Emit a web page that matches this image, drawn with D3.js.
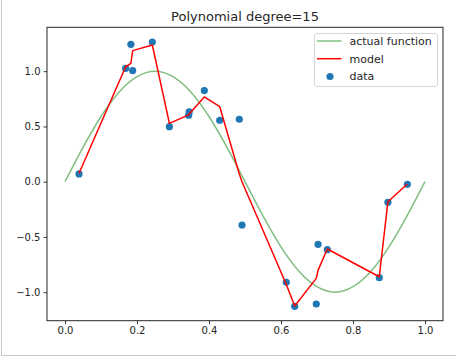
<!DOCTYPE html>
<html>
<head>
<meta charset="utf-8">
<script src="https://cdn.jsdelivr.net/npm/d3@7"></script>
<style>
  html, body { margin: 0; padding: 0; background: #fff; }
  svg { display: block; }
  text { font-family: "DejaVu Sans", sans-serif; fill: #262626; }
</style>
</head>
<body>
<svg id="chart" width="456" height="356"></svg>
<script>
// ---- data ----
const title = "Polynomial degree=15";
const dataX  = [0.039, 0.1685, 0.183, 0.188, 0.2426, 0.290, 0.3435, 0.345, 0.387, 0.4297,
                0.4842, 0.4917, 0.6148, 0.638, 0.698, 0.703, 0.7287, 0.873, 0.897, 0.951];
const dataY  = [0.070, 1.026, 1.243, 1.005, 1.264, 0.498, 0.601, 0.631, 0.824, 0.556,
                0.565, -0.392, -0.910, -1.128, -1.107, -0.567, -0.615, -0.869, -0.187, -0.024];
const modelY = [0.076, 1.040, 1.070, 1.186, 1.237, 0.528, 0.605, 0.613, 0.767, 0.680,
                0.070, 0.000, -0.930, -1.125, -0.875, -0.800, -0.609, -0.860, -0.181, -0.021];
const actualX = [0, 0.05, 0.10, 0.15, 0.20, 0.25, 0.30, 0.35, 0.40, 0.45, 0.50,
                 0.55, 0.60, 0.65, 0.70, 0.75, 0.80, 0.85, 0.90, 0.95, 1.00];
const actualY = [0, 0.31, 0.59, 0.81, 0.95, 1.00, 0.95, 0.81, 0.59, 0.31, 0,
                 -0.31, -0.59, -0.81, -0.95, -1.00, -0.95, -0.81, -0.59, -0.31, 0];
const xTicks = [0, 0.2, 0.4, 0.6, 0.8, 1.0];
const yTicks = [-1.0, -0.5, 0.0, 0.5, 1.0];
const legendLabels = ["actual function", "model", "data"];

// ---- layout ----
const svg = d3.select("#chart");
const L = 47, R = 443, T = 27.3, B = 320.7;
const x = d3.scaleLinear().domain([-0.05, 1.05]).range([L, R]);
const y = d3.scaleLinear().domain([-1.258, 1.397]).range([B, T]);

// outer light border (left & bottom as in the screenshot)
svg.append("line").attr("x1", 1.5).attr("x2", 1.5).attr("y1", 0).attr("y2", 355.5)
  .attr("stroke", "#c8c8c8").attr("stroke-width", 1);
svg.append("line").attr("x1", 1).attr("x2", 456).attr("y1", 355.5).attr("y2", 355.5)
  .attr("stroke", "#c8c8c8").attr("stroke-width", 1);

// title
svg.append("text").attr("x", (L + R) / 2).attr("y", 20.5)
  .attr("text-anchor", "middle").style("font-size", "13px").text(title);

const plot = svg.append("g");
plot.append("clipPath").attr("id", "clip").append("rect")
  .attr("x", L).attr("y", T).attr("width", R - L).attr("height", B - T);
const inner = plot.append("g").attr("clip-path", "url(#clip)");

// scatter
inner.selectAll("circle.data").data(dataX.map((d, i) => [d, dataY[i]]))
  .enter().append("circle").attr("class", "data")
  .attr("cx", d => x(d[0])).attr("cy", d => y(d[1])).attr("r", 3.6)
  .attr("fill", "#1f77b4");

// actual function
inner.append("path")
  .datum(actualX.map((d, i) => [d, actualY[i]]))
  .attr("d", d3.line().x(d => x(d[0])).y(d => y(d[1])).curve(d3.curveNatural))
  .attr("fill", "none").attr("stroke", "#80bf80").attr("stroke-width", 1.5);

// model
inner.append("path")
  .datum(dataX.map((d, i) => [d, modelY[i]]))
  .attr("d", d3.line().x(d => x(d[0])).y(d => y(d[1])))
  .attr("fill", "none").attr("stroke", "#ff0000").attr("stroke-width", 1.5)
  .attr("stroke-linejoin", "round");

// axes
const xAxis = d3.axisBottom(x).tickValues(xTicks).tickFormat(d3.format(".1f"))
  .tickSize(3.5).tickPadding(3);
const yAxis = d3.axisLeft(y).tickValues(yTicks)
  .tickFormat(d => d3.format(".1f")(d).replace("-", "\u2212"))
  .tickSize(3.5).tickPadding(3);
const gx = svg.append("g").attr("transform", `translate(0,${B})`).call(xAxis);
const gy = svg.append("g").attr("transform", `translate(${L},0)`).call(yAxis);
[gx, gy].forEach(g => {
  g.select(".domain").remove();
  g.selectAll("line").attr("stroke", "#262626").attr("stroke-width", 0.9);
  g.selectAll("text").style("font-size", "10px").style("font-family", "DejaVu Sans, sans-serif")
    .attr("fill", "#262626");
});

// frame
svg.append("rect").attr("x", L).attr("y", T).attr("width", R - L).attr("height", B - T)
  .attr("fill", "none").attr("stroke", "#262626").attr("stroke-width", 1);

// legend
const lg = svg.append("g");
lg.append("rect").attr("x", 314.5).attr("y", 33.5).attr("width", 123).attr("height", 53)
  .attr("rx", 2.5).attr("fill", "#fff").attr("fill-opacity", 0.8)
  .attr("stroke", "#d5d5d5").attr("stroke-width", 1);
const rows = [41, 58.7, 76.5];
lg.append("line").attr("x1", 317).attr("x2", 341.5).attr("y1", rows[0]).attr("y2", rows[0])
  .attr("stroke", "#80bf80").attr("stroke-width", 1.5);
lg.append("line").attr("x1", 317).attr("x2", 341.5).attr("y1", rows[1]).attr("y2", rows[1])
  .attr("stroke", "#ff0000").attr("stroke-width", 1.5);
lg.append("circle").attr("cx", 330).attr("cy", rows[2]).attr("r", 3.6).attr("fill", "#1f77b4");
legendLabels.forEach((t, i) => {
  lg.append("text").attr("x", 349.5).attr("y", rows[i] + 3.8)
    .style("font-size", "11px").text(t);
});
</script>
</body>
</html>
